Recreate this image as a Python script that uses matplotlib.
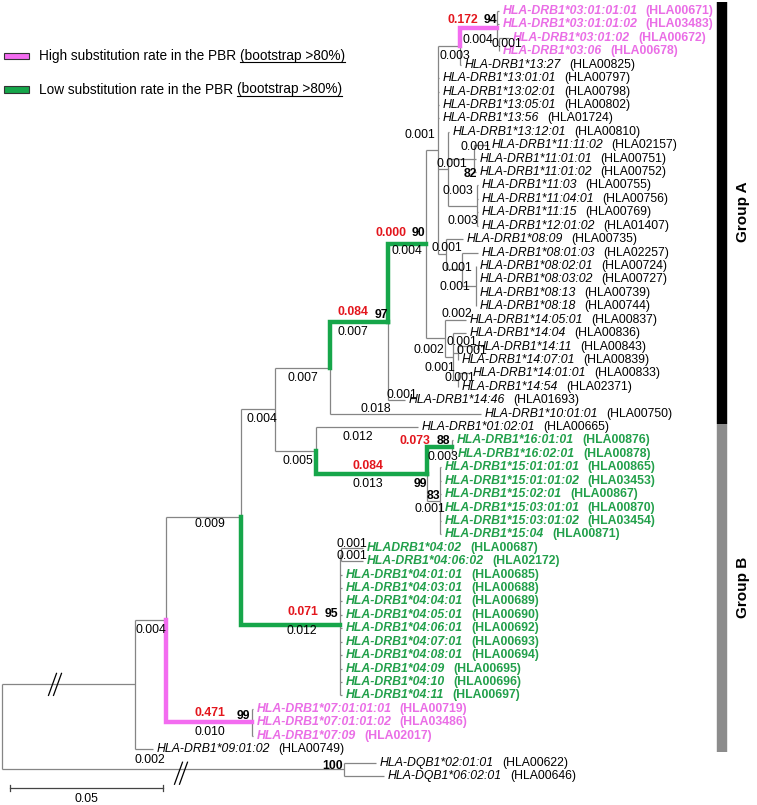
import matplotlib
matplotlib.use("Agg")
import matplotlib.pyplot as plt
from collections import defaultdict

plt.rcParams['font.family'] = ['Liberation Sans', 'DejaVu Sans']

# leaves, top to bottom
names = ["HLA-DRB1*03:01:01:01", "HLA-DRB1*03:01:01:02", "HLA-DRB1*03:01:02", "HLA-DRB1*03:06",
         "HLA-DRB1*13:27", "HLA-DRB1*13:01:01", "HLA-DRB1*13:02:01", "HLA-DRB1*13:05:01",
         "HLA-DRB1*13:56", "HLA-DRB1*13:12:01",
         "HLA-DRB1*11:11:02", "HLA-DRB1*11:01:01", "HLA-DRB1*11:01:02", "HLA-DRB1*11:03",
         "HLA-DRB1*11:04:01", "HLA-DRB1*11:15", "HLA-DRB1*12:01:02",
         "HLA-DRB1*08:09", "HLA-DRB1*08:01:03", "HLA-DRB1*08:02:01", "HLA-DRB1*08:03:02",
         "HLA-DRB1*08:13", "HLA-DRB1*08:18",
         "HLA-DRB1*14:05:01", "HLA-DRB1*14:04", "HLA-DRB1*14:11", "HLA-DRB1*14:07:01",
         "HLA-DRB1*14:01:01", "HLA-DRB1*14:54", "HLA-DRB1*14:46",
         "HLA-DRB1*10:01:01", "HLA-DRB1*01:02:01",
         "HLA-DRB1*16:01:01", "HLA-DRB1*16:02:01",
         "HLA-DRB1*15:01:01:01", "HLA-DRB1*15:01:01:02", "HLA-DRB1*15:02:01",
         "HLA-DRB1*15:03:01:01", "HLA-DRB1*15:03:01:02", "HLA-DRB1*15:04",
         "HLADRB1*04:02", "HLA-DRB1*04:06:02", "HLA-DRB1*04:01:01", "HLA-DRB1*04:03:01",
         "HLA-DRB1*04:04:01", "HLA-DRB1*04:05:01", "HLA-DRB1*04:06:01", "HLA-DRB1*04:07:01",
         "HLA-DRB1*04:08:01", "HLA-DRB1*04:09", "HLA-DRB1*04:10", "HLA-DRB1*04:11",
         "HLA-DRB1*07:01:01:01", "HLA-DRB1*07:01:01:02", "HLA-DRB1*07:09",
         "HLA-DRB1*09:01:02", "HLA-DQB1*02:01:01", "HLA-DQB1*06:02:01"]
accs = ["HLA00671", "HLA03483", "HLA00672", "HLA00678", "HLA00825", "HLA00797", "HLA00798",
        "HLA00802", "HLA01724", "HLA00810", "HLA02157", "HLA00751", "HLA00752", "HLA00755",
        "HLA00756", "HLA00769", "HLA01407", "HLA00735", "HLA02257", "HLA00724", "HLA00727",
        "HLA00739", "HLA00744", "HLA00837", "HLA00836", "HLA00843", "HLA00839", "HLA00833",
        "HLA02371", "HLA01693", "HLA00750", "HLA00665", "HLA00876", "HLA00878", "HLA00865",
        "HLA03453", "HLA00867", "HLA00870", "HLA03454", "HLA00871", "HLA00687", "HLA02172",
        "HLA00685", "HLA00688", "HLA00689", "HLA00690", "HLA00692", "HLA00693", "HLA00694",
        "HLA00695", "HLA00696", "HLA00697", "HLA00719", "HLA03486", "HLA02017", "HLA00749",
        "HLA00622", "HLA00646"]
tone = ['pink'] * 4 + ['plain'] * 28 + ['green'] * 20 + ['pink'] * 3 + ['plain'] * 3

leaf_parent = ['N03a', 'N03a', 'N03b', 'N03b', 'N460', 'NU', 'NU', 'NU', 'NU', 'N448',
               'N11', 'N11', 'N11', 'N12', 'N12', 'N12', 'N12',
               'N08', 'N08b', 'N08c', 'N08c', 'N08c', 'N08c',
               'N14', 'N14b', 'N14c', 'N14c', 'N14d', 'N14d', 'N388',
               'N330', 'N316', 'N16', 'N16'] + ['N15'] * 6 + ['N0402', 'N0402'] + ['N04'] * 10 + \
              ['N07', 'N07', 'N07', 'N135', 'NDQB', 'NDQB']
# tip depth of each leaf (tree drawn in page units, not to scale)
leaf_tip = [499, 499, 509, 499, 461, 439, 439, 439, 439, 449,
            488, 476, 476, 478, 478, 478, 478,
            463, 478, 476, 476, 476, 476,
            466, 466, 473, 458, 469, 458, 405,
            481, 418, 453, 454] + [441] * 6 + [363, 363] + [342] * 10 + \
           [253, 253, 253, 153, 376, 384]

# internal nodes: parent and depth
node_parent = {'root': None, 'N135': 'root', 'NDQB': 'root', 'N166': 'N135', 'N07': 'N166',
               'N241': 'N166', 'N04': 'N241', 'N0402': 'N04', 'N275': 'N241', 'N316': 'N275',
               'N427': 'N316', 'N16': 'N427', 'N15': 'N427', 'N330': 'N275', 'N388': 'N330',
               'N426': 'N388', 'N14': 'N426', 'N14b': 'N14', 'N14c': 'N14b', 'N14d': 'N14b',
               'NU': 'N426', 'N460': 'NU', 'N03a': 'N460', 'N03b': 'N03a', 'N448': 'NU',
               'N11': 'N448', 'N12': 'N448', 'N08': 'NU', 'N08b': 'N08', 'N08c': 'N08b'}
node_x = {'root': 2, 'N135': 135, 'NDQB': 344, 'N166': 166, 'N07': 252, 'N241': 241,
          'N04': 340, 'N0402': 341, 'N275': 275, 'N316': 316, 'N427': 427, 'N16': 452,
          'N15': 440, 'N330': 330, 'N388': 388, 'N426': 426, 'N14': 445, 'N14b': 453,
          'N14c': 458, 'N14d': 458, 'NU': 438, 'N460': 460, 'N03a': 497, 'N03b': 499,
          'N448': 448, 'N11': 474, 'N12': 477, 'N08': 446, 'N08b': 462, 'N08c': 476}

# branch lengths, substitution rates (red) and bootstrap values
blen = {'N03a': '0.004', 'N03b': '0.001', 'N460': '0.003', 'NU': '0.001', 'L10': '0.001',
        'N11': '0.001', 'N12': '0.003', 'L16': '0.003', 'N08': '0.001', 'N08b': '0.001',
        'N08c': '0.001', 'L23': '0.002', 'N14': '0.002', 'N14b': '0.001', 'N14c': '0.001',
        'L25': '0.001', 'N14d': '0.001', 'L29': '0.001', 'L30': '0.018', 'N426': '0.004',
        'N388': '0.007', 'N330': '0.007', 'N275': '0.004', 'L31': '0.012', 'N316': '0.005',
        'N427': '0.013', 'N16': '0.003', 'N15': '0.001', 'L40': '0.001', 'L41': '0.001',
        'N04': '0.012', 'N241': '0.009', 'N166': '0.004', 'N07': '0.010', 'L55': '0.002'}
subst = {'N03a': '0.172', 'N426': '0.000', 'N388': '0.084', 'N16': '0.073', 'N427': '0.084',
         'N04': '0.071', 'N07': '0.471'}
boot = {'N03a': '94', 'N11': '82', 'N426': '90', 'N388': '97', 'N16': '88', 'N427': '99',
        'N15': '83', 'N04': '95', 'N07': '99', 'NDQB': '100'}
pink_clades = ['N03a', 'N07']
green_clades = ['N426', 'N388', 'N427', 'N16', 'N04']

# label nudges (page px)
blen_shift = {'N03a': (-1, 2), 'N03b': (9, -11), 'N460': (6, 0), 'NU': (-12, -25),
              'L10': (-5, -8), 'N11': (-9, -5), 'N12': (-5, -25), 'L16': (-15, -15),
              'N08': (5, -16), 'N08b': (3, -11), 'N08c': (-14, -9), 'L23': (1, -16),
              'N14': (-7, 2), 'N14b': (-9, 1), 'N14c': (6, -21), 'L25': (6, -6),
              'N14d': (4, -12), 'L29': (5, -15), 'L30': (-30, -15), 'N426': (0, -3),
              'N388': (-6, 0), 'N275': (4, 0), 'L31': (-9, 0), 'N316': (2, 0),
              'N427': (-4, 0), 'N16': (3, 0), 'N15': (-4, -2), 'L40': (0, -14),
              'L41': (0, -15), 'N04': (11, -4), 'N241': (6, -3), 'N07': (1, 0), 'L55': (6, 1)}
boot_shift = {'N11': (3, 15), 'N427': (0, 10), 'N426': (-1, -11), 'N04': (-2, -11),
              'N16': (-2, -6), 'N07': (-2, -6), 'NDQB': (-1, -3), 'N15': (0, -5),
              'N388': (0, -7), 'N03a': (0, -8)}
subst_shift = {'N03a': (-19, -8), 'N426': (-20, -11), 'N388': (-20, -10), 'N16': (-22, -6),
               'N427': (-44, -8), 'N04': (-22, -13), 'N07': (-27, -9)}

GRAY = '#858585'
PINK = '#f36cf0'
PINK_TXT = '#ea6ee6'
GREEN = '#16a64a'
GREEN_TXT = '#22a04b'
RED = '#e3161d'
FS = 8.85

parent = dict(node_parent)
xs = dict(node_x)
ypos = {}
for i in range(len(names)):
    parent[f'L{i}'] = leaf_parent[i]
    xs[f'L{i}'] = leaf_tip[i]
    ypos[f'L{i}'] = 11 + 13.42 * i

children = defaultdict(list)
for k, p in parent.items():
    if p is not None:
        children[p].append(k)


def gety(k):
    if k not in ypos:
        ys = [gety(c) for c in children[k]]
        ypos[k] = (min(ys) + max(ys)) / 2
    return ypos[k]


for k in parent:
    gety(k)

fig = plt.figure(figsize=(7.57, 8.05), dpi=100)
ax = fig.add_axes([0, 0, 1, 1])
ax.set_xlim(0, 757)
ax.set_ylim(805, 0)
ax.axis('off')

# plain branches
for k, p in parent.items():
    if p is None:
        continue
    ax.plot([xs[p], xs[k]], [ypos[k], ypos[k]], color=GRAY, lw=0.9, solid_capstyle='butt')
for n, ch in children.items():
    ys = [ypos[c] for c in ch]
    ax.plot([xs[n], xs[n]], [min(ys), max(ys)], color=GRAY, lw=0.9, solid_capstyle='butt')

# highlighted branches
for clades, col in ((pink_clades, PINK), (green_clades, GREEN)):
    for k in clades:
        p = parent[k]
        ax.plot([xs[p], xs[p], xs[k]], [ypos[p], ypos[k], ypos[k]], color=col, lw=3.2,
                solid_joinstyle='miter', solid_capstyle='projecting')

# break marks on the long root branches
for bx, by in ((55, ypos['N135']), (181, ypos['NDQB'] + 4)):
    for off in (-2.5, 2.5):
        ax.plot([bx + off - 4, bx + off + 4], [by + 11, by - 11], color='black', lw=0.9)

# leaf labels
tcol = {'pink': PINK_TXT, 'green': GREEN_TXT, 'plain': 'black'}
for i, (nm, ac) in enumerate(zip(names, accs)):
    wt = 'normal' if tone[i] == 'plain' else 'bold'
    t = ax.text(leaf_tip[i] + 4, ypos[f'L{i}'], nm, style='italic', weight=wt,
                color=tcol[tone[i]], fontsize=FS, va='center', ha='left')
    ax.annotate(f'({ac})', xy=(1, 0.5), xycoords=t, xytext=(5.6, 0),
                textcoords='offset points', va='center', ha='left', fontsize=FS,
                weight=wt, color=tcol[tone[i]])

# branch length labels
for k, s in blen.items():
    dx, dy = blen_shift.get(k, (0, 0))
    cx = (xs[parent[k]] + xs[k]) / 2 + dx
    ax.text(cx, ypos[k] + 10 + dy, s, fontsize=FS, ha='center', va='center', color='black')

for k, s in boot.items():
    dx, dy = boot_shift.get(k, (-1, -8))
    ax.text(xs[k] + dx, ypos[k] + dy, s, fontsize=FS, weight='bold', ha='right', va='center')

for k, s in subst.items():
    dx, dy = subst_shift[k]
    ax.text(xs[k] + dx, ypos[k] + dy, s, fontsize=FS, weight='bold', color=RED,
            ha='right', va='center')

# scale bar
sb_x, sb_y, sb_px = 10, 788, 153
ax.plot([sb_x, sb_x + sb_px], [sb_y, sb_y], color='#444444', lw=0.9)
for ex in (sb_x, sb_x + sb_px):
    ax.plot([ex, ex], [sb_y - 3, sb_y + 3], color='#444444', lw=0.9)
ax.text(sb_x + sb_px / 2, sb_y + 11, '0.05', fontsize=FS, ha='center', va='center')

# group bars
ax.plot([722, 722], [2, 424], color='black', lw=7.5, solid_capstyle='butt')
ax.plot([722, 722], [424, 752], color='#8c8c8c', lw=7.5, solid_capstyle='butt')
ax.text(743, 212, 'Group A', rotation=90, fontsize=11, weight='bold', ha='center', va='center')
ax.text(743, 587, 'Group B', rotation=90, fontsize=11, weight='bold', ha='center', va='center')

# legend
legend_rows = [(56, PINK, 'High substitution rate in the PBR'),
               (89.5, GREEN, 'Low substitution rate in the PBR')]
under = []
for ly, fc, txt in legend_rows:
    ax.add_patch(plt.Rectangle((4, ly - 3.2), 25, 6.4, facecolor=fc, edgecolor='#333333', lw=0.8))
    t = ax.text(39, ly, txt, fontsize=9.8, ha='left', va='center')
    t2 = ax.annotate('(bootstrap >80%)', xy=(1, 0.5), xycoords=t, xytext=(2.8, 0),
                     textcoords='offset points', fontsize=9.8, ha='left', va='center')
    under.append(t2)

fig.canvas.draw()
rend = fig.canvas.get_renderer()
inv = ax.transData.inverted()
for t2 in under:
    bb = t2.get_window_extent(rend)
    (x0, y0), (x1, y1) = inv.transform([(bb.x0, bb.y0), (bb.x1, bb.y0)])
    ax.plot([x0, x1], [y0 - 0.5, y0 - 0.5], color='black', lw=0.8)

fig.savefig('out.png', dpi=100)
